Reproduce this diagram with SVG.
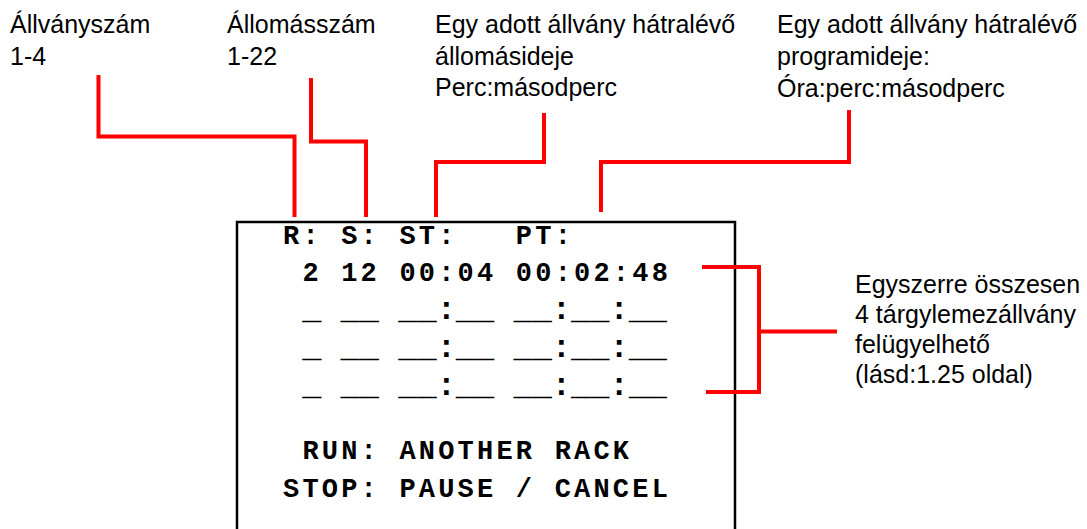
<svg xmlns="http://www.w3.org/2000/svg" width="1087" height="529" viewBox="0 0 1087 529">
<style>
.lbl{font-family:"Liberation Sans",Arial,sans-serif;font-size:25px;fill:#000}
.mono{font-family:"Liberation Mono","Courier New",monospace;font-size:27px;letter-spacing:3.2px;font-weight:bold;fill:#000;white-space:pre}
.blank{font-family:"Liberation Mono","Courier New",monospace;font-size:32px;font-weight:bold;fill:#000;white-space:pre}
.red{fill:none;stroke:#FF0000;stroke-width:4;stroke-linejoin:miter}
</style>
<rect width="1087" height="529" fill="#fff"/>
<g id="label-rack">
<text class="lbl" x="10" y="33">Állványszám</text>
<text class="lbl" x="10" y="65">1-4</text>
</g>
<g id="label-station">
<text class="lbl" x="227" y="33">Állomásszám</text>
<text class="lbl" x="227" y="65">1-22</text>
</g>
<g id="label-station-time">
<text class="lbl" x="435" y="33">Egy adott állvány hátralévő</text>
<text class="lbl" x="435" y="65">állomásideje</text>
<text class="lbl" x="435" y="96">Perc:másodperc</text>
</g>
<g id="label-program-time">
<text class="lbl" x="777" y="33">Egy adott állvány hátralévő</text>
<text class="lbl" x="777" y="65">programideje:</text>
<text class="lbl" x="777" y="97">Óra:perc:másodperc</text>
</g>
<g id="label-racks">
<text class="lbl" x="855" y="293">Egyszerre összesen</text>
<text class="lbl" x="855" y="323">4 tárgylemezállvány</text>
<text class="lbl" x="855" y="353">felügyelhető</text>
<text class="lbl" x="855" y="383">(lásd:1.25 oldal)</text>
</g>
<g id="display">
<path d="M237,529 V222 H735 V529" fill="none" stroke="#000" stroke-width="2.5"/>
<text class="mono" x="283" y="244" xml:space="preserve">R: S: ST:   PT:</text>
<text class="mono" x="283" y="281" xml:space="preserve"> 2 12 00:04 00:02:48</text>
<text class="blank" x="283" y="319" xml:space="preserve"> _ __ __:__ __:__:__</text>
<text class="blank" x="283" y="357" xml:space="preserve"> _ __ __:__ __:__:__</text>
<text class="blank" x="283" y="395" xml:space="preserve"> _ __ __:__ __:__:__</text>
<text class="mono" x="283" y="459" xml:space="preserve"> RUN: ANOTHER RACK</text>
<text class="mono" x="283" y="497" xml:space="preserve">STOP: PAUSE / CANCEL</text>
</g>
<g id="connectors">
<path class="red" d="M98.5,75 V136.5 H294.5 V217"/>
<path class="red" d="M311,78 V141.5 H366 V217"/>
<path class="red" d="M544,113 V162 H436 V217"/>
<path class="red" d="M849,110 V162 H601 V212"/>
<path class="red" d="M702,267 H759 V392 H706 M759,331.5 H837"/>
</g>
</svg>
